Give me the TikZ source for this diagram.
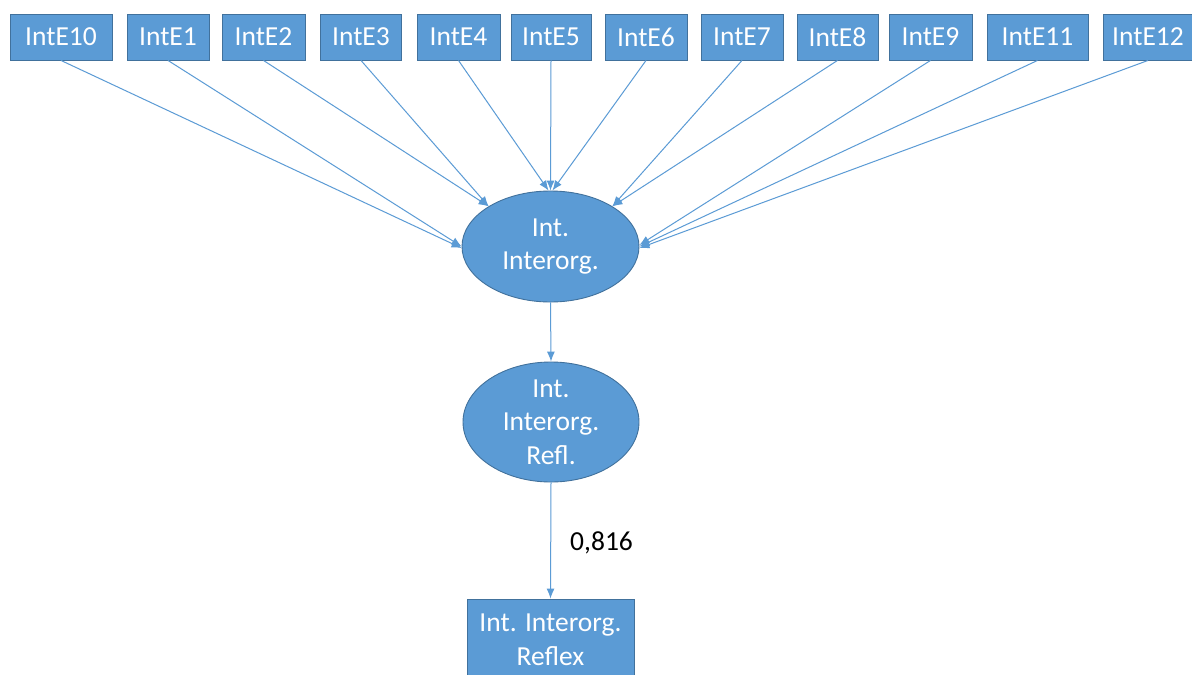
\documentclass[tikz,border=0pt]{standalone}
\usepackage{fontspec}
\setmainfont{Carlito}
\usetikzlibrary{arrows.meta,shapes.geometric}
\definecolor{boxfill}{HTML}{5B9BD5}
\definecolor{boxline}{HTML}{41719C}
\definecolor{arrowblue}{HTML}{5B9BD5}
\begin{document}
\begin{tikzpicture}[x=1pt,y=-1pt,
  every node/.style={font=\fontsize{27.5}{33.5}\selectfont, inner sep=0pt, align=center},
  item/.style={rectangle, fill=boxfill, draw=boxline, line width=0.9pt,
    text=white, minimum height=46pt},
  latent/.style={ellipse, fill=boxfill, draw=boxline, line width=0.9pt,
    text=white},
  link/.style={draw=arrowblue, line width=1pt,
    -{Latex[length=10pt,width=8pt]}}]
\useasboundingbox (0,0) rectangle (1192,675);
\fill[white] (0,0) rectangle (1192,675);

% indicator boxes
\node[item, minimum width=102pt] (e10) at (61,37)     {IntE10};
\node[item, minimum width=82pt]  (e1)  at (168,37)    {IntE1};
\node[item, minimum width=83pt]  (e2)  at (263.5,37)  {IntE2};
\node[item, minimum width=81pt]  (e3)  at (361,37)    {IntE3};
\node[item, minimum width=83pt]  (e4)  at (458.5,37)  {IntE4};
\node[item, minimum width=80pt]  (e5)  at (551,37)    {IntE5};
\node[item, minimum width=82pt]  (e6)  at (646,37)    {IntE6};
\node[item, minimum width=82pt]  (e7)  at (742,37)    {IntE7};
\node[item, minimum width=81pt]  (e8)  at (837.5,37)  {IntE8};
\node[item, minimum width=83pt]  (e9)  at (930.5,37)  {IntE9};
\node[item, minimum width=101pt] (e11) at (1037.5,37) {IntE11};
\node[item, minimum width=90pt]  (e12) at (1148,37)   {IntE12};

% latent constructs
\node[latent, minimum width=177pt, minimum height=111pt] (lat) at (550.5,246.5)
  {Int.\\Interorg.};
\node[latent, minimum width=176pt, minimum height=112pt] (refl) at (551,422)
  {Int.\\Interorg.\\Refl.};

% reflective indicator (runs past the lower edge)
\begin{scope}
\clip (0,0) rectangle (1192,675);
\node[item, minimum width=167pt, minimum height=86pt] (rfx) at (550.5,642)
  {};
\end{scope}
\node[text=white] (rfxtext) at (550.5,640) {Int. Interorg.\\Reflex};

% formative paths
\draw[link] (e10.south) -- (lat.181);
\draw[link] (e1.south)  -- (lat.180);
\draw[link] (e2.south)  -- (lat.147);
\draw[link] (e3.south)  -- (lat.147);
\draw[link] (e4.south)  -- (lat.92);
\draw[link] (e5.south)  -- (lat.90);
\draw[link] (e6.south)  -- (lat.88);
\draw[link] (e7.south)  -- (lat.33);
\draw[link] (e8.south)  -- (lat.33);
\draw[link] (e9.south)  -- (lat.1);
\draw[link] (e11.south) -- (lat.0);
\draw[link] (e12.south) -- (lat.359);

% structural paths
\draw[link] (lat.south) -- (refl.north);
\draw[link] (refl.south) -- (rfx.north)
  node[pos=0.52, right=19pt, text=black] (coef) {0,816};
\end{tikzpicture}
\end{document}
